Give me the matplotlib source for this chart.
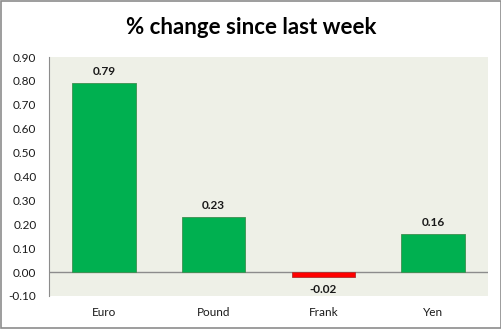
import matplotlib
matplotlib.use("Agg")
import matplotlib.pyplot as plt
from matplotlib.patches import Rectangle

categories = ["Euro", "Pound", "Frank", "Yen"]
values = [0.79, 0.23, -0.02, 0.16]
labels = ["0.79", "0.23", "-0.02", "0.16"]
yticks = [-0.10, 0.00, 0.10, 0.20, 0.30, 0.40, 0.50, 0.60, 0.70, 0.80, 0.90]

plt.rcParams['font.family'] = ['Lato', 'DejaVu Sans']

fig = plt.figure(figsize=(5.02, 3.29), dpi=100)
fig.patch.set_facecolor('white')
fig.patches.append(Rectangle((0.002, 0.003), 0.996, 0.994, transform=fig.transFigure,
                             fill=False, edgecolor='#8c8c8c', linewidth=1.2))
ax = fig.add_axes([49/502, 1-296/329, (488-49)/502, (296-57)/329])
ax.set_facecolor('#eef0e7')

colors = ['#00b050' if v >= 0 else '#ff0000' for v in values]
edges = ['#3f8f50' if v >= 0 else '#b03030' for v in values]
x = list(range(len(categories)))
ax.bar(x, values, width=0.58, color=colors, edgecolor=edges, linewidth=0.6, zorder=3)
ax.axhline(0, color='#8c8c8c', linewidth=1.0, zorder=2)

for xi, v, lab in zip(x, values, labels):
    if v >= 0:
        ax.text(xi, v + 0.025, lab, ha='center', va='bottom', fontsize=8.5, fontweight='bold', color='#1a1a1a')
    else:
        ax.text(xi, v - 0.03, lab, ha='center', va='top', fontsize=8.5, fontweight='bold', color='#1a1a1a')

ax.set_xlim(-0.5, 3.5)
ax.set_ylim(-0.10, 0.90)
ax.set_yticks(yticks)
ax.set_yticklabels([f"{t:.2f}" for t in yticks], fontsize=8.5, color='#1a1a1a')
ax.set_xticks(x)
ax.set_xticklabels(categories, fontsize=8.5, color='#1a1a1a')
ax.tick_params(axis='y', length=0, pad=9)
ax.tick_params(axis='x', length=0, pad=8)
for s in ['top', 'right', 'bottom']:
    ax.spines[s].set_visible(False)
ax.spines['left'].set_color('#8c8c8c')

fig.text(0.5, 1-27/329, "% change since last week", ha='center', va='center',
         fontsize=16, fontweight='bold', color='black')

fig.savefig("out.png", dpi=100)
